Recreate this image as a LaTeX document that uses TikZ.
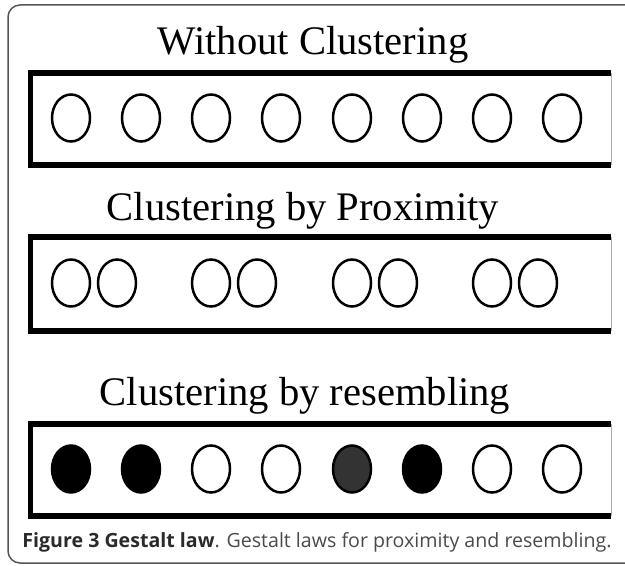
\documentclass[tikz,border=0pt]{standalone}
\usepackage{fontspec}
\setmainfont{Liberation Serif}
\newfontfamily\capfont{Open Sans}
\definecolor{framegray}{HTML}{555555}
\definecolor{edgegray}{HTML}{B0B0B0}
\definecolor{capdark}{HTML}{2A2A2A}
\definecolor{capgray}{HTML}{4A4A4A}
\begin{document}
\begin{tikzpicture}[x=0.5pt, y=-0.5pt,
    panel/.style={line width=2.7pt},
    dot/.style={line width=1.25pt},
    title/.style={anchor=base, inner sep=0pt, font=\fontsize{20.3}{24}\selectfont}]
  \useasboundingbox (0,0) rectangle (625,566);
  \clip (0,0) rectangle (625,566);

  % outer frame
  \draw[framegray, line width=0.75pt, rounded corners=6pt] (8,5) rectangle (650,563);

  % titles
  \node[title] (t1) at (313,55) {Without Clustering};
  \node[title] (t2) at (303,221) {Clustering by Proximity};
  \node[title] (t3) at (305,405) {Clustering by resembling};

  % three panels, open on the right
  \foreach \top/\bot in {73/165, 237/331, 424/516} {
    \draw[edgegray, line width=0.5pt] (611,\top) -- (611,\bot);
    \draw[panel] (611,\top) -- (30.5,\top) -- (30.5,\bot) -- (611,\bot);
  }

  % row 1: evenly spaced
  \foreach \x in {71, 141, 211, 281, 352, 422, 492, 562}
    \draw[dot] (\x,118) ellipse (9.5pt and 11.75pt);

  % row 2: pairs
  \foreach \x in {71, 117, 211, 257, 352, 398, 492, 538}
    \draw[dot] (\x,283) ellipse (9.5pt and 11.75pt);

  % row 3: filled and open
  \foreach \x/\col in {71/black, 141/black, 211/white, 281/white,
                       352/black!80, 422/black, 492/white, 562/white}
    \draw[dot, fill=\col] (\x,469) ellipse (9.5pt and 11.75pt);

  % caption
  \node[anchor=base west, inner sep=0pt, font=\capfont\fontsize{9.8}{11}\selectfont] (cap) at (22,547)
    {{\bfseries\color{capdark}Figure 3 Gestalt law}\color{capgray}. Gestalt laws for proximity and resembling.};
\end{tikzpicture}
\end{document}
